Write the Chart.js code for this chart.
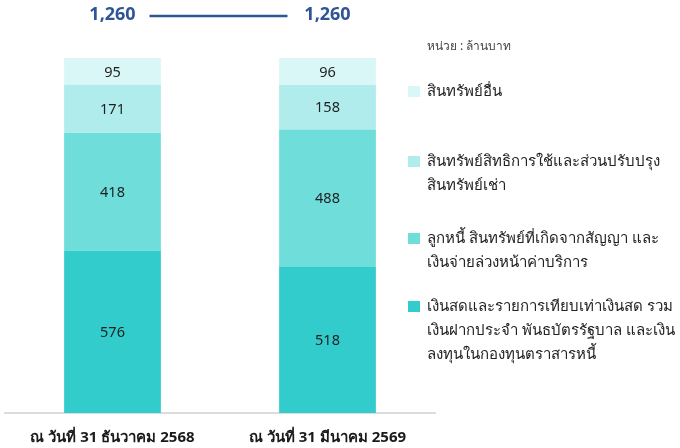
<!DOCTYPE html>
<html>
<head>
<meta charset="utf-8">
<script src="https://cdn.jsdelivr.net/npm/chart.js@4/dist/chart.umd.min.js"></script>
<style>
  body { margin: 0; background: #fff; font-family: "Noto Sans", "DejaVu Sans", sans-serif; }
  #wrap { position: relative; width: 680px; height: 448px; overflow: hidden; }
  #chart { position: absolute; left: 0; top: 7px; }
  .unit { position: absolute; left: 427px; top: 36px; font-size: 12px; color: #444; }
  .legend-item { position: absolute; left: 408px; width: 272px; }
  .legend-box { position: absolute; left: 0; width: 12px; height: 11px; }
  .legend-text { margin-left: 19px; font-size: 15px; line-height: 24px; color: #222; white-space: nowrap; }
</style>
</head>
<body>
<div id="wrap">
  <canvas id="chart" width="680" height="448"></canvas>
  <div class="unit">หน่วย : ล้านบาท</div>
  <div id="legend"></div>
</div>
<script>
const categories = ['ณ วันที่ 31 ธันวาคม 2568', 'ณ วันที่ 31 มีนาคม 2569'];
const seriesNames = [
    'เงินสดและรายการเทียบเท่าเงินสด รวม\nเงินฝากประจำ พันธบัตรรัฐบาล และเงิน\nลงทุนในกองทุนตราสารหนี้',
    'ลูกหนี้ สินทรัพย์ที่เกิดจากสัญญา และ\nเงินจ่ายล่วงหน้าค่าบริการ',
    'สินทรัพย์สิทธิการใช้และส่วนปรับปรุง\nสินทรัพย์เช่า',
    'สินทรัพย์อื่น'
];
const cashValues = [576, 518];
const receivableValues = [418, 488];
const rightOfUseValues = [171, 158];
const otherValues = [95, 96];
const colors = ['#33CCCC', '#6FDDD9', '#B1ECEC', '#DAF7F7'];

const seriesValues = [cashValues, receivableValues, rightOfUseValues, otherValues];
const totals = categories.map((c, i) => seriesValues.reduce((s, arr) => s + arr[i], 0));

// ตัวเลขในแท่ง + ยอดรวมด้านบน
const labelPlugin = {
    id: 'labels',
    afterDatasetsDraw(chart) {
        const ctx = chart.ctx;
        ctx.save();
        ctx.textAlign = 'center';
        ctx.textBaseline = 'middle';
        ctx.font = '14.5px "Noto Sans", "DejaVu Sans", sans-serif';
        ctx.fillStyle = '#1f1f1f';
        chart.data.datasets.forEach((ds, di) => {
            chart.getDatasetMeta(di).data.forEach((bar, i) => {
                const y = (bar.y + bar.base) / 2;
                ctx.fillText(ds.data[i].toLocaleString('en-US'), bar.x, y + 1);
            });
        });
        const xs = chart.scales.x;
        const yTot = 8;
        ctx.font = 'bold 18px "Noto Sans", "DejaVu Sans", sans-serif';
        ctx.fillStyle = '#2F5597';
        totals.forEach((t, i) => {
            ctx.fillText(t.toLocaleString('en-US'), xs.getPixelForValue(i), yTot);
        });
        const x0 = xs.getPixelForValue(0) + 37;
        const x1 = xs.getPixelForValue(1) - 40;
        ctx.beginPath();
        ctx.moveTo(x0, yTot + 1);
        ctx.lineTo(x1, yTot + 1);
        ctx.strokeStyle = '#2F5597';
        ctx.lineWidth = 2.5;
        ctx.stroke();
        ctx.restore();
    }
};

const chart = new Chart(document.getElementById('chart').getContext('2d'), {
    type: 'bar',
    data: {
        labels: categories,
        datasets: seriesValues.map((vals, i) => ({
            label: seriesNames[i],
            data: vals,
            backgroundColor: colors[i],
            barPercentage: 0.45,
            categoryPercentage: 1
        }))
    },
    options: {
        responsive: false,
        animation: false,
        layout: { padding: { top: 0, left: 5, right: 245, bottom: 0 } },
        scales: {
            x: {
                stacked: true,
                grid: { display: false },
                border: { color: '#dcdcdc', width: 2 },
                ticks: {
                    color: '#1a1a1a',
                    padding: 8,
                    font: { size: 15, weight: 'bold', family: '"Noto Sans", "DejaVu Sans", sans-serif' }
                }
            },
            y: {
                stacked: true,
                display: false,
                min: 0,
                max: 1441
            }
        },
        plugins: {
            legend: { display: false },
            tooltip: { enabled: false }
        }
    },
    plugins: [labelPlugin]
});

// legend แบบกำหนดเอง (เรียงจากบนลงล่าง)
const legendTops = [78, 148, 225, 293];
const legend = document.getElementById('legend');
[3, 2, 1, 0].forEach((si, k) => {
    const item = document.createElement('div');
    item.className = 'legend-item';
    item.style.top = legendTops[k] + 'px';
    const box = document.createElement('div');
    box.className = 'legend-box';
    box.style.top = '8px';
    box.style.background = colors[si];
    const text = document.createElement('div');
    text.className = 'legend-text';
    text.innerHTML = seriesNames[si].split('\n').join('<br>');
    item.appendChild(box);
    item.appendChild(text);
    legend.appendChild(item);
});
</script>
</body>
</html>
